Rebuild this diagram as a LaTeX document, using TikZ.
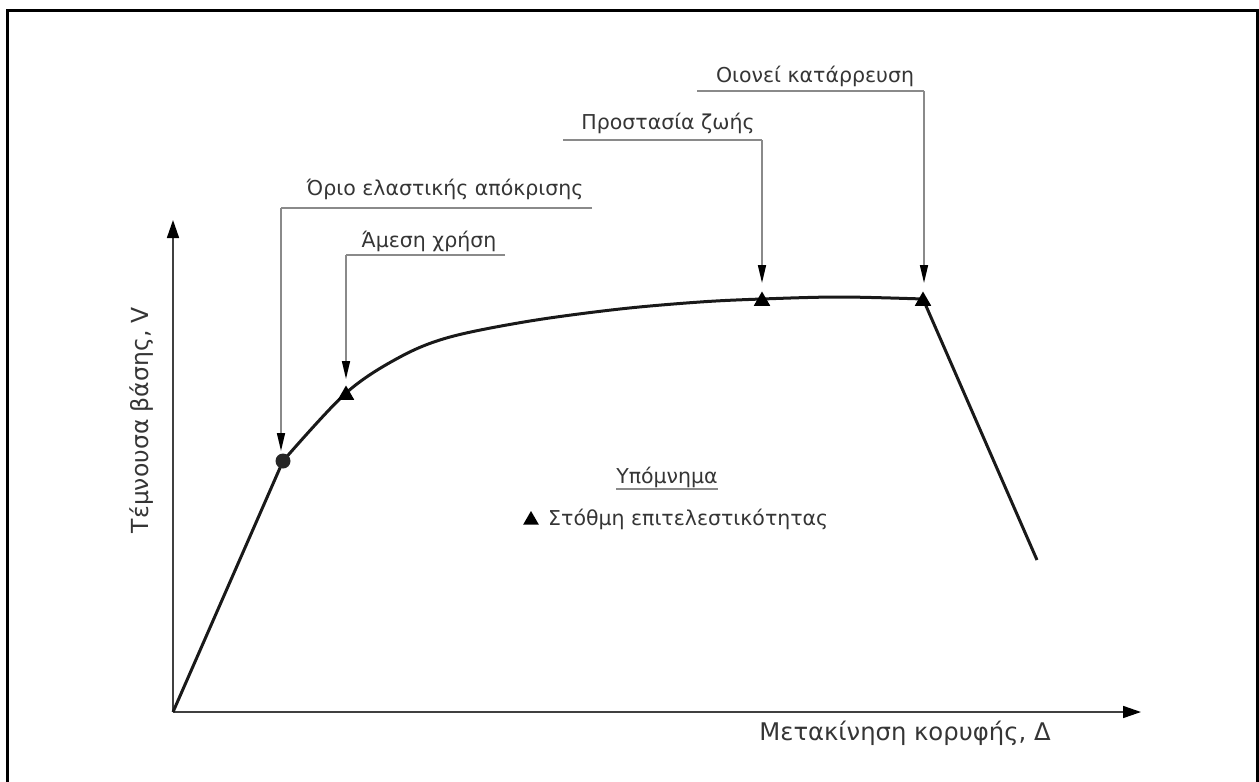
\documentclass[tikz,border=0pt]{standalone}
\usepackage{fontspec}
\setmainfont{DejaVu Sans}
\usetikzlibrary{shapes.geometric,arrows.meta}
\definecolor{txt}{HTML}{353535}
\definecolor{lead}{HTML}{8A8A8A}
\tikzset{
  lbl/.style={text=txt,font=\fontsize{20.5}{24}\selectfont,inner sep=0pt},
  biglbl/.style={text=txt,font=\fontsize{23.5}{27}\selectfont,inner sep=0pt},
  leader/.style={draw=lead,line width=1.6pt},
  ldarrow/.style={draw=lead,line width=1.6pt,-{Triangle[length=18pt,width=8pt,black]}},
  axis/.style={draw=black!75,line width=1.6pt,-{Triangle[length=18pt,width=12pt,black]}},
  curve/.style={draw=black!90,line width=3pt,line join=round},
  tri/.style={regular polygon,regular polygon sides=3,fill=black,inner sep=0pt,minimum size=19pt},
  dot/.style={circle,fill=black!85,inner sep=0pt,minimum size=15pt}
}
\begin{document}
\begin{tikzpicture}[x=1pt,y=-1pt]
\useasboundingbox (0,0) rectangle (1259,782);
\draw[line width=3pt,black] (7,800) -- (7,10) -- (1257,10) -- (1257,800);
% axes
\coordinate (O) at (173,712);
\coordinate (Ytop) at (173,220);
\coordinate (Xend) at (1141,712);
\draw[axis] (O) -- (Ytop);
\draw[axis] (O) -- (Xend);
% marker positions
\coordinate (m1) at (283,461);
\coordinate (m2) at (346,393);
\coordinate (m3) at (762,299);
\coordinate (m4) at (923,299);
\coordinate (e) at (1037,560);
\draw[curve] (O) -- (m1) plot[smooth,tension=0.55] coordinates {(m1) (m2) (400,357) (450,337) (530,321) (620,309) (700,302) (m3) (840,297) (m4)} -- (e);
\node[dot] (n1) at (m1) {};
\node[tri] (n2) at ([yshift=-2pt]m2) {};
\node[tri] (n3) at ([yshift=-2pt]m3) {};
\node[tri] (n4) at ([yshift=-2pt]m4) {};
% leaders
\coordinate (a1) at (281,208); \coordinate (b1) at (592,208);
\draw[leader] (b1) -- (a1);
\draw[ldarrow] (a1) -- (281,451);
\node[lbl] (t1) at (445,189) {Όριο ελαστικής απόκρισης};
\coordinate (a2) at (346,255); \coordinate (b2) at (505,255);
\draw[leader] (b2) -- (a2);
\draw[ldarrow] (a2) -- (346,379);
\node[lbl] (t2) at (429,241) {Άμεση χρήση};
\coordinate (a3) at (762,140); \coordinate (b3) at (563,140);
\draw[leader] (b3) -- (a3);
\draw[ldarrow] (a3) -- (762,283);
\node[lbl] (t3) at (668,123) {Προστασία ζωής};
\coordinate (a4) at (924,91); \coordinate (b4) at (697,91);
\draw[leader] (b4) -- (a4);
\draw[ldarrow] (a4) -- (924,283);
\node[lbl] (t4) at (815,76) {Οιονεί κατάρρευση};
% legend
\node[lbl] (lg) at (667,477) {Υπόμνημα};
\draw[leader] ([yshift=-6pt]lg.base west) -- ([yshift=-6pt]lg.base east);
\node[tri,minimum size=18pt] (lt) at (531,520) {};
\node[lbl,anchor=west] (ltx) at (548,519) {Στόθμη επιτελεστικότητας};
% axis labels
\node[biglbl,font=\fontsize{24.3}{28}\selectfont] (xl) at (905,733) {Μετακίνηση κορυφής, Δ};
\node[biglbl,rotate=90] (yl) at (142,420) {Τέμνουσα βάσης, V};
\end{tikzpicture}
\end{document}
